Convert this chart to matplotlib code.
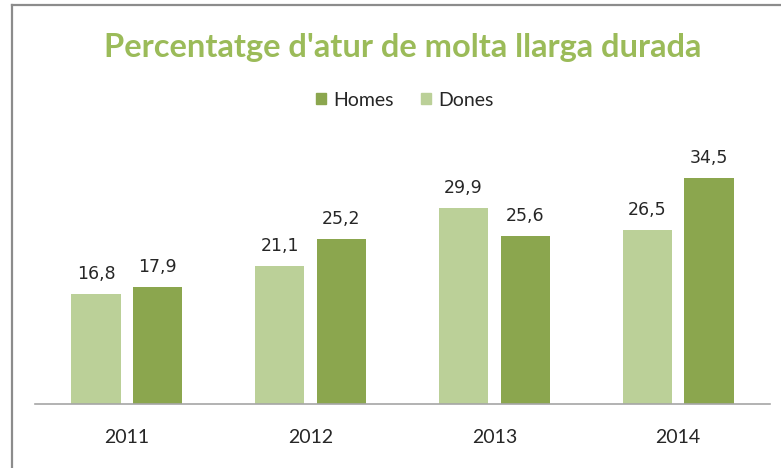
import matplotlib
matplotlib.use("Agg")
import matplotlib.pyplot as plt
import numpy as np
from matplotlib.lines import Line2D

years = ["2011", "2012", "2013", "2014"]
homes = [17.9, 25.2, 25.6, 34.5]
dones = [16.8, 21.1, 29.9, 26.5]
title = "Percentatge d'atur de molta llarga durada"

c_homes = "#8BA64E"
c_dones = "#BBD098"
c_title = "#9BBB59"
c_text = "#262626"

plt.rcParams['font.family'] = ['Lato', 'DejaVu Sans']

W, H = 781, 468
fig = plt.figure(figsize=(W / 100, H / 100), dpi=100)

# Axes: x 35..770 px, y bottom at 404 px, top at 130 px
ax = fig.add_axes([35 / W, (H - 404) / H, (770 - 35) / W, (404 - 130) / H])
x = np.arange(len(years))
bw = 0.267
off = 0.168
b1 = ax.bar(x - off, dones, bw, color=c_dones, label="Dones", zorder=2)
b2 = ax.bar(x + off, homes, bw, color=c_homes, label="Homes", zorder=2)
ax.set_xlim(-0.5, len(years) - 0.5)
ax.set_ylim(0, 274 / 6.55)

for bars, vals in ((b1, dones), (b2, homes)):
    for r, v in zip(bars, vals):
        ax.annotate(f"{v:.1f}".replace(".", ","), (r.get_x() + r.get_width() / 2, v),
                    xytext=(0, 8), textcoords="offset points", ha="center", va="bottom",
                    fontsize=12.5, color=c_text, family="DejaVu Sans")

ax.set_xticks(x)
ax.set_xticklabels(years, fontsize=14, color=c_text)
ax.tick_params(axis="x", length=0, pad=18)
ax.set_yticks([])
for s in ("top", "right", "left"):
    ax.spines[s].set_visible(False)
ax.spines["bottom"].set_color("#a6a6a6")
ax.spines["bottom"].set_linewidth(1.2)

fig.text(403 / W, 1 - 47 / H, title, ha="center", va="center", fontsize=23.5,
         color=c_title, fontweight="bold")

handles = [plt.Rectangle((0, 0), 1, 1, color=c_homes), plt.Rectangle((0, 0), 1, 1, color=c_dones)]
fig.legend(handles, ["Homes", "Dones"], loc="center", bbox_to_anchor=(405 / W, 1 - 100 / H),
           ncol=2, frameon=False, fontsize=14, handlelength=0.5, handleheight=0.5,
           handletextpad=0.4, columnspacing=1.4, labelcolor=c_text)

# Border lines (left and top)
fig.add_artist(Line2D([12 / W, 12 / W], [0, 1 - 5 / H], color="#8c8c8c", lw=1.6,
                      transform=fig.transFigure))
fig.add_artist(Line2D([12 / W, 1], [1 - 5 / H, 1 - 5 / H], color="#8c8c8c", lw=1.6,
                      transform=fig.transFigure))

fig.savefig("out.png", dpi=100)
